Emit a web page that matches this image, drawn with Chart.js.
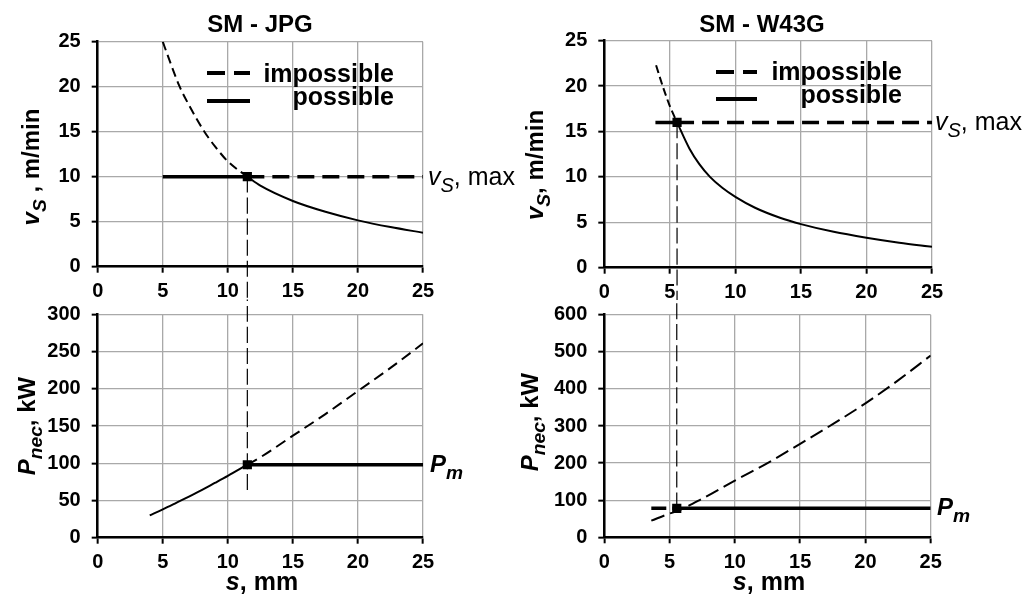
<!DOCTYPE html>
<html>
<head>
<meta charset="utf-8">
<script src="https://cdn.jsdelivr.net/npm/chart.js@4.4.0/dist/chart.umd.min.js"></script>
<style>
  body { margin: 0; background: #fff; }
  #lienzo { position: relative; width: 1027px; height: 594px; overflow: hidden;
            font-family: Arial, "Liberation Sans", sans-serif; color: #000; }
  canvas { position: absolute; }
  .txt { position: absolute; white-space: nowrap; line-height: 1; }
  .titulo { font-weight: bold; font-size: 24px; transform: translateX(-50%); }
  .rot { font-weight: bold; font-size: 24px; transform: translate(-50%, -50%) rotate(-90deg); }
  .ejex { font-weight: bold; font-size: 25px; transform: translateX(-50%); }
  .lim { font-size: 25px; }
  .pm { font-weight: bold; font-style: italic; font-size: 24px; }
  .ley { font-weight: bold; font-size: 25px; transform: translateX(-100%); }
  sub { font-size: 0.8em; vertical-align: -0.35em; line-height: 0; }
</style>
</head>
<body>
<div id="lienzo">
  <canvas id="vsJpg" width="520" height="300" style="left:0;top:0"></canvas>
  <canvas id="pJpg" width="520" height="304" style="left:0;top:290px"></canvas>
  <canvas id="vsW43" width="507" height="300" style="left:520px;top:0"></canvas>
  <canvas id="pW43" width="507" height="304" style="left:520px;top:290px"></canvas>

  <div class="txt titulo" style="left:260px;top:12px">SM - JPG</div>
  <div class="txt titulo" style="left:762px;top:12px">SM - W43G</div>

  <div class="txt rot" style="left:31px;top:167px"><i>v</i><sub><i>S</i></sub> , m/min</div>
  <div class="txt rot" style="left:27px;top:426px"><i>P</i><sub><i>nec</i></sub>, kW</div>
  <div class="txt rot" style="left:535px;top:165px"><i>v</i><sub><i>S</i></sub>, m/min</div>
  <div class="txt rot" style="left:530px;top:422px"><i>P</i><sub><i>nec</i></sub>, kW</div>

  <div class="txt ejex" style="left:262px;top:569px"><i>s</i>, mm</div>
  <div class="txt ejex" style="left:769px;top:569px"><i>s</i>, mm</div>

  <div class="txt ley" style="left:394px;top:61px">impossible</div>
  <div class="txt ley" style="left:394px;top:84px">possible</div>
  <div class="txt ley" style="left:902px;top:59px">impossible</div>
  <div class="txt ley" style="left:902px;top:82px">possible</div>

  <div class="txt lim" style="left:428px;top:164px"><i>v</i><sub><i>S</i></sub>, max</div>
  <div class="txt lim" style="left:935px;top:109px"><i>v</i><sub><i>S</i></sub>, max</div>

  <div class="txt pm" style="left:430px;top:452px">P<sub>m</sub></div>
  <div class="txt pm" style="left:937px;top:495px">P<sub>m</sub></div>
</div>

<script>
// ---- SM - JPG ----
// velocidad vs (m/min) contra s (mm)
let jpgVsImpS = [5, 5.5, 6.3, 7, 8.2, 9, 10, 11.5];
let jpgVsImp  = [25, 23, 20, 18, 15, 13.4, 11.7, 10];
let jpgVsPosS = [11.5, 12.5, 15, 17.5, 20, 22.5, 25];
let jpgVsPos  = [10, 9, 7.3, 6.1, 5.15, 4.4, 3.78];
let jpgVsMax  = 10;
let jpgSLim   = 11.5;
let jpgVsMaxS = [5, 11.5, 25];
// potencia necesaria Pnec (kW)
let jpgPPosS = [4, 5, 6, 7.5, 9, 10, 11.5];
let jpgPPos  = [30, 38, 46.5, 59.5, 73.5, 83, 98];
let jpgPImpS = [11.5, 12.5, 15, 17.5, 20, 22.5, 25];
let jpgPImp  = [98, 108, 137, 166, 197, 228, 261];
let jpgPm    = 98;
let jpgPmS   = [11.5, 25];
// la línea vertical sigue entre las dos gráficas
let jpgVertVs = [10, -3.6];
let jpgVertP  = [64, 320];

// ---- SM - W43G ----
let w43VsImpS = [3.95, 4.5, 5, 5.55];
let w43VsImp  = [22.3, 19.8, 17.8, 16];
let w43VsPosS = [5.55, 6.5, 7.25, 8.06, 9, 10, 11.5, 13.4, 15, 17.5, 20, 22.5, 25];
let w43VsPos  = [16, 13.1, 11.4, 10, 8.8, 7.8, 6.6, 5.5, 4.8, 3.95, 3.3, 2.75, 2.3];
let w43VsMax  = 16;
let w43SLim   = 5.55;
let w43VsMaxS = [3.9, 5.55, 25];
let w43PImpS = [3.6, 5, 5.55, 7.5, 10, 12.5, 15, 17.5, 20, 22.5, 25];
let w43PImp  = [45, 64, 70, 104, 153, 200, 252, 305, 361, 423, 490];
let w43Pm    = 78;
let w43PmS   = [3.6, 5.55, 25];
let w43VertVs = [16, -3.6];
let w43VertP  = [78, 640];

// ejes
let ticksS  = [0, 5, 10, 15, 20, 25];
let ticksVs = [0, 5, 10, 15, 20, 25];
let ticksPJpg = [0, 50, 100, 150, 200, 250, 300];
let ticksPW43 = [0, 100, 200, 300, 400, 500, 600];

let fuente = 'Arial, "Liberation Sans", sans-serif';
Chart.defaults.font.family = fuente;

// Función para armar una serie a partir de dos arreglos
function serie(xs, ys, extra) {
    return Object.assign({
        data: xs.map((x, i) => ({ x: x, y: ys[i] })),
        showLine: true,
        borderColor: '#000',
        backgroundColor: '#000',
        borderWidth: 2,
        pointRadius: 0,
        cubicInterpolationMode: 'monotone'
    }, extra);
}

function marca(x, y) {
    return {
        data: [{ x: x, y: y }],
        showLine: false,
        pointStyle: 'rect',
        pointRadius: 6.5,
        pointBorderWidth: 0,
        backgroundColor: '#000',
        borderColor: '#000'
    };
}

function eje(valores, alto, ancho, esX) {
    let config = {
        type: 'linear',
        min: valores[0],
        max: valores[valores.length - 1],
        afterBuildTicks: s => { s.ticks = valores.map(v => ({ value: v })); },
        ticks: { color: '#000', font: { size: 20, weight: 'bold' }, padding: esX ? 7 : 11, maxRotation: 0, autoSkip: false },
        grid: { color: '#a9a9a9', lineWidth: 1.3, tickColor: '#000', tickLength: 6, tickWidth: 2 },
        border: { color: '#000', width: 2.5 }
    };
    if (esX) {
        config.afterFit = s => { s.height = alto; };
    } else {
        config.afterFit = s => { s.width = ancho; };
    }
    return config;
}

// Plugin para dibujar las muestras de línea de la leyenda
let muestras = {
    id: 'muestras',
    afterDraw(chart, args, o) {
        if (!o || o.x1 === undefined) return;
        let ctx = chart.ctx;
        ctx.save();
        ctx.strokeStyle = '#000';
        ctx.lineWidth = 4;
        ctx.setLineDash([18, 9]);
        ctx.beginPath(); ctx.moveTo(o.x1, o.y1); ctx.lineTo(o.x2, o.y1); ctx.stroke();
        ctx.setLineDash([]);
        ctx.beginPath(); ctx.moveTo(o.x1, o.y2); ctx.lineTo(o.x2, o.y2); ctx.stroke();
        ctx.restore();
    }
};

function grafica(id, datasets, ticksY, yAncho, xAlto, padding, leyenda) {
    return new Chart(document.getElementById(id), {
        type: 'scatter',
        data: { datasets: datasets },
        options: {
            responsive: false,
            animation: false,
            events: [],
            layout: { padding: padding },
            plugins: { legend: { display: false }, tooltip: { enabled: false }, muestras: leyenda || {} },
            scales: {
                x: eje(ticksS, xAlto, 0, true),
                y: eje(ticksY, 0, yAncho, false)
            }
        },
        plugins: [muestras]
    });
}

// Gráfica superior izquierda
grafica('vsJpg', [
    marca(jpgSLim, jpgVsMax),
    serie(jpgVsImpS, jpgVsImp, { borderDash: [9, 5] }),
    serie(jpgVsPosS, jpgVsPos, {}),
    serie(jpgVsMaxS.slice(0, 2), [jpgVsMax, jpgVsMax], { borderWidth: 3.5 }),
    serie(jpgVsMaxS.slice(1), [jpgVsMax, jpgVsMax], { borderWidth: 3.5, borderDash: [17, 8] }),
    serie([jpgSLim, jpgSLim], jpgVertVs, { borderWidth: 1.2, borderDash: [16, 5], clip: false })
], ticksVs, 97.7, 33.3, { top: 41.7, right: 97, left: 0, bottom: 0 },
   { x1: 207, x2: 250, y1: 73, y2: 101 });

// Gráfica inferior izquierda
grafica('pJpg', [
    marca(jpgSLim, jpgPm),
    serie(jpgPPosS, jpgPPos, {}),
    serie(jpgPImpS, jpgPImp, { borderDash: [11, 6] }),
    serie(jpgPmS, [jpgPm, jpgPm], { borderWidth: 3.5 }),
    serie([jpgSLim, jpgSLim], jpgVertP, { borderWidth: 1.2, borderDash: [16, 5], clip: false })
], ticksPJpg, 97.7, 45, { top: 24.3, right: 97, left: 0, bottom: 11.3 });

// Gráfica superior derecha
grafica('vsW43', [
    marca(w43SLim, w43VsMax),
    serie(w43VsImpS, w43VsImp, { borderDash: [8, 4] }),
    serie(w43VsPosS, w43VsPos, {}),
    serie(w43VsMaxS.slice(0, 2), [w43VsMax, w43VsMax], { borderWidth: 3.5 }),
    serie(w43VsMaxS.slice(1), [w43VsMax, w43VsMax], { borderWidth: 3.5, borderDash: [17, 8] }),
    serie([w43SLim, w43SLim], w43VertVs, { borderWidth: 1.2, borderDash: [16, 5], clip: false })
], ticksVs, 84.3, 32.3, { top: 40.7, right: 95, left: 0, bottom: 0 },
   { x1: 196, x2: 237, y1: 72, y2: 99 });

// Gráfica inferior derecha
grafica('pW43', [
    marca(w43SLim, w43Pm),
    serie(w43PImpS, w43PImp, { borderDash: [14, 6] }),
    serie(w43PmS.slice(0, 2), [w43Pm, w43Pm], { borderWidth: 3.5, borderDash: [15, 6] }),
    serie(w43PmS.slice(1), [w43Pm, w43Pm], { borderWidth: 3.5 }),
    serie([w43SLim, w43SLim], w43VertP, { borderWidth: 1.2, borderDash: [16, 5], clip: false })
], ticksPW43, 84.3, 45, { top: 24.7, right: 96.3, left: 0, bottom: 11.7 });
</script>
</body>
</html>
